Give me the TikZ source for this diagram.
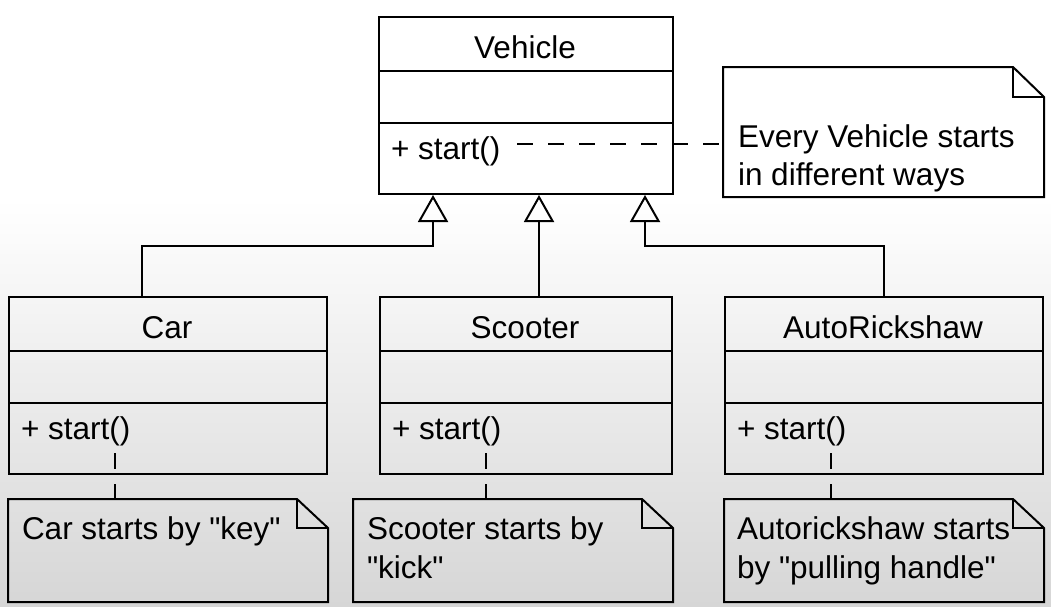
\documentclass[tikz,border=0pt]{standalone}
\usepackage{fontspec}
\setmainfont{Liberation Sans}[Ligatures=TeXOff]
\usetikzlibrary{arrows.meta}
\definecolor{bgbottom}{RGB}{214,214,214}
\begin{document}
\begin{tikzpicture}[x=1pt,y=-1pt,
  line width=2pt,
  lbl/.style={font=\fontsize{31.5}{38}\selectfont, inner sep=0pt, anchor=base west},
  ttl/.style={font=\fontsize{31.5}{38}\selectfont, inner sep=0pt, anchor=base},
  classbox/.style={draw=black, line width=2pt, inner sep=0pt, minimum height=177pt, anchor=north west},
  notebox/.style={inner sep=0pt, anchor=north west},
  noteline/.style={draw=black, line width=2pt, line join=miter},
  inherit/.style={draw=black, line width=2pt, -{Triangle[open, width=30pt, length=27pt, line width=2pt]}},
  dashline/.style={draw=black, line width=2pt, dash pattern=on 16pt off 15pt}
]
% background
\useasboundingbox (0,0) rectangle (1051,606);
\fill[white] (0,0) rectangle (1051,200);
\shade[top color=white, bottom color=bgbottom] (0,199) rectangle (1051,606);

% ---------- Vehicle ----------
\node[classbox, minimum width=294pt] (veh) at (378,16) {};
\draw (378,71) -- (672,71);
\draw (378,123) -- (672,123);
\node[ttl] (vehT) at (525,58) {Vehicle};
\node[lbl] (vehM) at (390,159) {+ start()};

% Vehicle note
\node[notebox, minimum width=319pt, minimum height=128pt] (vn) at (723,67) {};
\draw[noteline] (vn.north west) -- ([xshift=-31pt]vn.north east) -- ([yshift=-30pt]vn.north east) -- (vn.south east) -- (vn.south west) -- cycle;
\draw[noteline] ([xshift=-31pt]vn.north east) |- ([yshift=-30pt]vn.north east);
\node[lbl] (vnT1) at (737,147) {Every Vehicle starts};
\node[lbl] (vnT2) at (737,185) {in different ways};
\coordinate (vd) at (517,144);
\draw[dashline] (vd) -- (vd -| vn.west);

% ---------- Car ----------
\node[classbox, minimum width=318pt] (car) at (8,296) {};
\draw (8,351) -- (326,351);
\draw (8,403) -- (326,403);
\node[ttl] (carT) at (167,338) {Car};
\node[lbl] (carM) at (20,439) {+ start()};

% ---------- Scooter ----------
\node[classbox, minimum width=292pt] (sc) at (379,296) {};
\draw (379,351) -- (671,351);
\draw (379,403) -- (671,403);
\node[ttl] (scT) at (525,338) {Scooter};
\node[lbl] (scM) at (391,439) {+ start()};

% ---------- AutoRickshaw ----------
\node[classbox, minimum width=318pt] (au) at (724,296) {};
\draw (724,351) -- (1042,351);
\draw (724,403) -- (1042,403);
\node[ttl] (auT) at (883,338) {AutoRickshaw};
\node[lbl] (auM) at (736,439) {+ start()};

% ---------- inheritance ----------
\draw[inherit] ([xshift=-26pt]car.north) |- ([xshift=-93pt,yshift=-51pt]veh.south) -- ([xshift=-93pt]veh.south);
\draw[inherit] ([xshift=13pt]sc.north) -- ([xshift=13pt]veh.south);
\draw[inherit] (au.north) |- ([xshift=119pt,yshift=-51pt]veh.south) -- ([xshift=119pt]veh.south);

% ---------- bottom notes ----------
\node[notebox, minimum width=318pt, minimum height=101pt] (cn) at (8,499) {};
\draw[noteline] (cn.north west) -- ([xshift=-31pt]cn.north east) -- ([yshift=-29pt]cn.north east) -- (cn.south east) -- (cn.south west) -- cycle;
\draw[noteline] ([xshift=-31pt]cn.north east) |- ([yshift=-29pt]cn.north east);
\node[lbl] (cnT) at (21,539) {Car starts by "key"};
\coordinate (cd) at (115,453);
\draw[dashline] (cd) -- (cd |- cn.north);

\node[notebox, minimum width=318pt, minimum height=101pt] (sn) at (353,499) {};
\draw[noteline] (sn.north west) -- ([xshift=-31pt]sn.north east) -- ([yshift=-29pt]sn.north east) -- (sn.south east) -- (sn.south west) -- cycle;
\draw[noteline] ([xshift=-31pt]sn.north east) |- ([yshift=-29pt]sn.north east);
\node[lbl] (snT1) at (366,539) {Scooter starts by};
\node[lbl] (snT2) at (366,578) {"kick"};
\coordinate (sd) at (486,453);
\draw[dashline] (sd) -- (sd |- sn.north);

\node[notebox, minimum width=318pt, minimum height=101pt] (an) at (724,499) {};
\draw[noteline] (an.north west) -- ([xshift=-31pt]an.north east) -- ([yshift=-29pt]an.north east) -- (an.south east) -- (an.south west) -- cycle;
\draw[noteline] ([xshift=-31pt]an.north east) |- ([yshift=-29pt]an.north east);
\node[lbl] (anT1) at (736,539) {Autorickshaw starts};
\node[lbl] (anT2) at (736,578) {by "pulling handle"};
\coordinate (ad) at (831,453);
\draw[dashline] (ad) -- (ad |- an.north);
\end{tikzpicture}
\end{document}
